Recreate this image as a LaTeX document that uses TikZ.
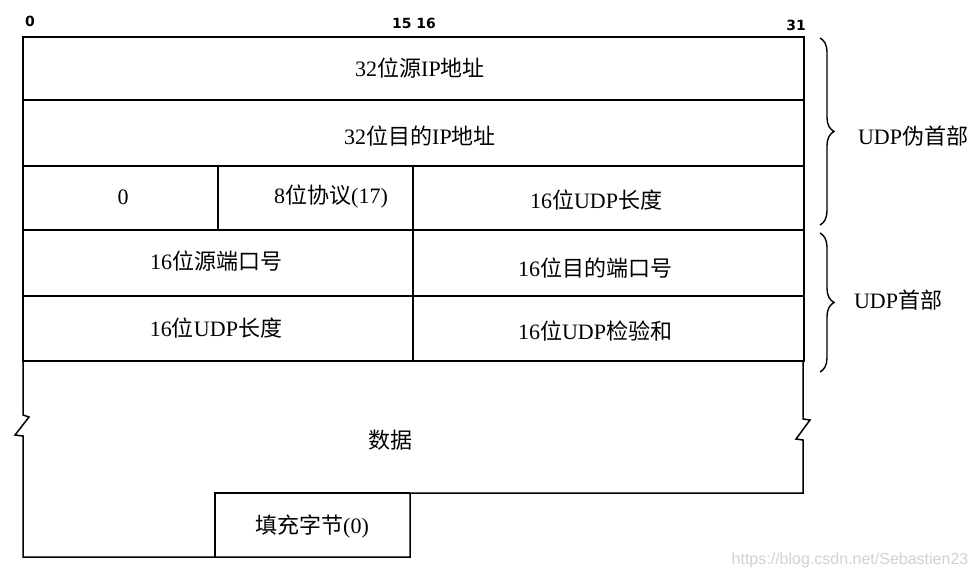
\documentclass[tikz,border=0pt]{standalone}
\usepackage{fontspec}
\setmainfont{Liberation Serif}
\newfontfamily\cjk{Noto Sans CJK SC}
\newfontfamily\hdr{DejaVu Sans}
\usetikzlibrary{decorations.pathreplacing}
\begin{document}
\begin{tikzpicture}[x=1pt,y=-1pt,
  frame/.style={line width=1.5pt, line join=miter},
  cell/.style={font=\fontsize{22}{22}\selectfont, inner sep=0pt, anchor=center},
  hd/.style={font=\hdr\bfseries\fontsize{14}{14}\selectfont, inner sep=0pt},
  brc/.style={decorate, decoration={brace, amplitude=14pt, aspect=0.5}, line width=1.4pt},
  side/.style={font=\fontsize{22}{22}\selectfont, inner sep=0pt}]
\useasboundingbox (0,0) rectangle (977,579);
% header numbers
\node[hd] (b0) at (30,21) {0};
\node[hd] (b15) at (414,23) {15 16};
\node[hd] (b31) at (796,25) {31};
% grid
\draw[frame] (23,37) rectangle (804,361);
\draw[frame] (23,100) -- (804,100);
\draw[frame] (23,166) -- (804,166);
\draw[frame] (23,230) -- (804,230);
\draw[frame] (23,296) -- (804,296);
\draw[frame] (218,166) -- (218,230);
\draw[frame] (413,166) -- (413,361);
% data area with break marks
\draw[frame] (23,361) -- (23,415) -- (29,417) -- (15,435) -- (23,436) -- (23,557)
  -- (410,557) -- (410,493) -- (803,493) -- (803,440) -- (796,439) -- (810,420) -- (803,419) -- (803,361);
\draw[frame] (215,557) -- (215,493) -- (410,493);
% texts
\node[cell] (srcip) at (420,68) {32{\cjk 位源}IP{\cjk 地址}};
\node[cell] (dstip) at (420,136) {32{\cjk 位目的}IP{\cjk 地址}};
\node[cell] (zero) at (123,197) {0};
\node[cell] (proto) at (331,197) {8{\cjk 位协议}(17)};
\node[cell] (len1) at (596,200) {16{\cjk 位}UDP{\cjk 长度}};
\node[cell] (sport) at (216,261) {16{\cjk 位源端口号}};
\node[cell] (dport) at (595,268) {16{\cjk 位目的端口号}};
\node[cell] (len2) at (216,328) {16{\cjk 位}UDP{\cjk 长度}};
\node[cell] (csum) at (595,331) {16{\cjk 位}UDP{\cjk 检验和}};
\node[cell] (data) at (390,440) {{\cjk 数据}};
\node[cell] (pad) at (312,527) {{\cjk 填充字节}(0)};
% braces
\coordinate (p1a) at (820,38);
\coordinate (p1b) at (820,225);
\coordinate (p2a) at (820,233);
\coordinate (p2b) at (820,372);
\draw[brc] (p1a) -- (p1b);
\draw[brc] (p2a) -- (p2b);
\node[side] (pseudo) at (913,136) {UDP{\cjk 伪首部}};
\node[side] (hdrlbl) at (898,300) {UDP{\cjk 首部}};
% watermark
\node[font=\fontsize{16}{16}\selectfont\fontspec{Liberation Sans}, text=black!18, inner sep=0pt] (wm) at (850,560) {https://blog.csdn.net/Sebastien23};
\end{tikzpicture}
\end{document}
